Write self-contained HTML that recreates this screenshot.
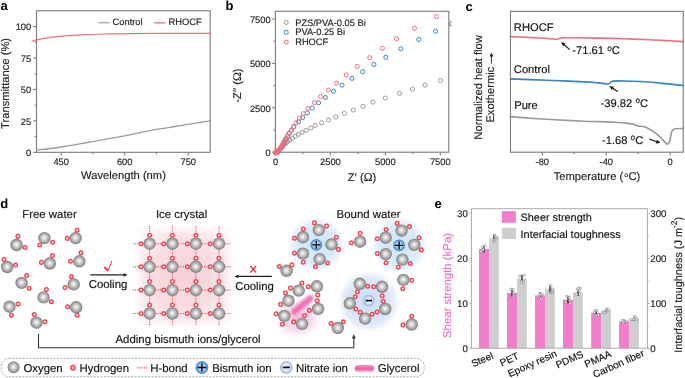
<!DOCTYPE html>
<html><head><meta charset="utf-8"><style>html,body{margin:0;padding:0;background:#fff;}svg{display:block;will-change:transform;}</style></head>
<body>
<svg text-rendering="geometricPrecision" width="685" height="378" viewBox="0 0 685 378" font-family='"Liberation Sans", sans-serif'>
<rect width="685" height="378" fill="#fff"/>
<defs>
<radialGradient id="sph" cx="0.5" cy="0.5" r="0.52" fx="0.48" fy="0.46"><stop offset="0" stop-color="#fcfcfc"/><stop offset="0.22" stop-color="#e4e4e4"/><stop offset="0.6" stop-color="#b2b2b2"/><stop offset="0.86" stop-color="#8c8c8c"/><stop offset="1" stop-color="#7c7c7c"/></radialGradient>
<radialGradient id="bion" cx="0.5" cy="0.5" r="0.5"><stop offset="0" stop-color="#d3e6f8"/><stop offset="0.55" stop-color="#a9cbef"/><stop offset="1" stop-color="#6ea5dd"/></radialGradient>
<radialGradient id="nion" cx="0.5" cy="0.5" r="0.5"><stop offset="0" stop-color="#f6f9fe"/><stop offset="0.6" stop-color="#dde8f8"/><stop offset="1" stop-color="#bcd2f2"/></radialGradient>
<radialGradient id="hleg" cx="0.5" cy="0.5" r="0.5"><stop offset="0" stop-color="#ffd0d4"/><stop offset="1" stop-color="#f58a94"/></radialGradient>
<radialGradient id="blueglow" cx="0.5" cy="0.5" r="0.5"><stop offset="0" stop-color="#cde5f8"/><stop offset="0.6" stop-color="#d8ebf9"/><stop offset="0.8" stop-color="#e8f3fc"/><stop offset="1" stop-color="#ffffff" stop-opacity="0"/></radialGradient>
<radialGradient id="blueglow2" cx="0.5" cy="0.5" r="0.5"><stop offset="0" stop-color="#cddff6"/><stop offset="0.6" stop-color="#d8e6f8"/><stop offset="0.8" stop-color="#e8f0fb"/><stop offset="1" stop-color="#ffffff" stop-opacity="0"/></radialGradient>
<radialGradient id="pinkglow" cx="0.5" cy="0.5" r="0.6"><stop offset="0" stop-color="#f5d0d6"/><stop offset="0.6" stop-color="#f8dde1"/><stop offset="1" stop-color="#fcf0f2"/></radialGradient>
<radialGradient id="pinkglow2" cx="0.5" cy="0.5" r="0.5"><stop offset="0" stop-color="#f3bcdc"/><stop offset="0.5" stop-color="#f8dbeb"/><stop offset="1" stop-color="#ffffff" stop-opacity="0"/></radialGradient>
<linearGradient id="glyc" x1="0" y1="0" x2="1" y2="1"><stop offset="0" stop-color="#f27bb6"/><stop offset="1" stop-color="#ee5ea6"/></linearGradient>
<linearGradient id="glycV" x1="0" y1="0" x2="0" y2="1"><stop offset="0" stop-color="#f59ccb"/><stop offset="0.5" stop-color="#ee5fa6"/><stop offset="1" stop-color="#f59ccb"/></linearGradient>
<filter id="blur3" x="-30%" y="-30%" width="160%" height="160%"><feGaussianBlur stdDeviation="3.2"/></filter>
<filter id="blur6" x="-30%" y="-30%" width="160%" height="160%"><feGaussianBlur stdDeviation="5"/></filter>
<filter id="blur08" x="-30%" y="-30%" width="160%" height="160%"><feGaussianBlur stdDeviation="0.8"/></filter>
<filter id="blur05" x="-30%" y="-30%" width="160%" height="160%"><feGaussianBlur stdDeviation="0.6"/></filter>
</defs>
<text x="0.4" y="10.1" font-size="13" text-anchor="start" fill="#000" font-weight="bold">a</text>
<rect x="36.5" y="10.8" width="173.7" height="141.5" fill="none" stroke="#7a7a7a" stroke-width="1.1"/>
<line x1="33.3" y1="152.3" x2="36.5" y2="152.3" stroke="#7a7a7a" stroke-width="1.1"/>
<text x="31.2" y="156.10000000000002" font-size="9.3" text-anchor="end" fill="#222" stroke="#222" stroke-width="0.15">0</text>
<line x1="33.3" y1="120.86250000000001" x2="36.5" y2="120.86250000000001" stroke="#7a7a7a" stroke-width="1.1"/>
<text x="31.2" y="124.66250000000001" font-size="9.3" text-anchor="end" fill="#222" stroke="#222" stroke-width="0.15">25</text>
<line x1="33.3" y1="89.42500000000001" x2="36.5" y2="89.42500000000001" stroke="#7a7a7a" stroke-width="1.1"/>
<text x="31.2" y="93.22500000000001" font-size="9.3" text-anchor="end" fill="#222" stroke="#222" stroke-width="0.15">50</text>
<line x1="33.3" y1="57.98750000000001" x2="36.5" y2="57.98750000000001" stroke="#7a7a7a" stroke-width="1.1"/>
<text x="31.2" y="61.78750000000001" font-size="9.3" text-anchor="end" fill="#222" stroke="#222" stroke-width="0.15">75</text>
<line x1="33.3" y1="26.55000000000001" x2="36.5" y2="26.55000000000001" stroke="#7a7a7a" stroke-width="1.1"/>
<text x="31.2" y="30.350000000000012" font-size="9.3" text-anchor="end" fill="#222" stroke="#222" stroke-width="0.15">100</text>
<line x1="34.6" y1="136.58125" x2="36.5" y2="136.58125" stroke="#7a7a7a" stroke-width="1.1"/>
<line x1="34.6" y1="105.14375000000001" x2="36.5" y2="105.14375000000001" stroke="#7a7a7a" stroke-width="1.1"/>
<line x1="34.6" y1="73.70625000000001" x2="36.5" y2="73.70625000000001" stroke="#7a7a7a" stroke-width="1.1"/>
<line x1="34.6" y1="42.26875000000001" x2="36.5" y2="42.26875000000001" stroke="#7a7a7a" stroke-width="1.1"/>
<line x1="61.2" y1="152.3" x2="61.2" y2="155.5" stroke="#7a7a7a" stroke-width="1.1"/>
<text x="61.2" y="164.70000000000002" font-size="9.3" text-anchor="middle" fill="#222" stroke="#222" stroke-width="0.15">450</text>
<line x1="124.725" y1="152.3" x2="124.725" y2="155.5" stroke="#7a7a7a" stroke-width="1.1"/>
<text x="124.725" y="164.70000000000002" font-size="9.3" text-anchor="middle" fill="#222" stroke="#222" stroke-width="0.15">600</text>
<line x1="188.25" y1="152.3" x2="188.25" y2="155.5" stroke="#7a7a7a" stroke-width="1.1"/>
<text x="188.25" y="164.70000000000002" font-size="9.3" text-anchor="middle" fill="#222" stroke="#222" stroke-width="0.15">750</text>
<line x1="92.9625" y1="152.3" x2="92.9625" y2="154.20000000000002" stroke="#7a7a7a" stroke-width="1.1"/>
<line x1="156.4875" y1="152.3" x2="156.4875" y2="154.20000000000002" stroke="#7a7a7a" stroke-width="1.1"/>
<text x="123.5" y="179.4" font-size="11.2" text-anchor="middle" fill="#222" stroke="#222" stroke-width="0.15">Wavelength (nm)</text>
<text x="9.3" y="83.4" font-size="11.2" text-anchor="middle" fill="#222" stroke="#222" stroke-width="0.15" transform="rotate(-90 9.3 83.4)">Transmittance (%)</text>
<line x1="98.2" y1="22.7" x2="109.7" y2="22.7" stroke="#a8a8a8" stroke-width="1.3"/>
<text x="112.6" y="25.2" font-size="9.3" text-anchor="start" fill="#222" stroke="#222" stroke-width="0.15">Control</text>
<line x1="154.2" y1="22.9" x2="165.7" y2="22.9" stroke="#ef6f7c" stroke-width="1.3"/>
<text x="168.6" y="25.2" font-size="9.3" text-anchor="start" fill="#222" stroke="#222" stroke-width="0.15">RHOCF</text>
<path d="M32.00,41.50 C32.63,41.27 32.97,40.75 35.80,40.10 C38.63,39.45 44.13,38.30 49.00,37.60 C53.87,36.90 59.67,36.37 65.00,35.90 C70.33,35.43 74.33,35.12 81.00,34.80 C87.67,34.48 96.83,34.20 105.00,34.00 C113.17,33.80 119.17,33.70 130.00,33.60 C140.83,33.50 156.67,33.45 170.00,33.40 C183.33,33.35 203.33,33.32 210.00,33.30" fill="none" stroke="#ef6f7c" stroke-width="1.2" stroke-linejoin="round" stroke-linecap="round"/>
<path d="M36.80,150.20 C40.83,149.67 52.13,148.37 61.00,147.00 C69.87,145.63 79.40,143.85 90.00,142.00 C100.60,140.15 115.43,137.63 124.60,135.90 C133.77,134.17 139.15,132.77 145.00,131.60 C150.85,130.43 154.70,129.75 159.70,128.90 C164.70,128.05 170.03,127.28 175.00,126.50 C179.97,125.72 185.33,124.87 189.50,124.20 C193.67,123.53 196.58,123.07 200.00,122.50 C203.42,121.93 208.33,121.08 210.00,120.80" fill="none" stroke="#9c9c9c" stroke-width="1.3" stroke-linejoin="round" stroke-linecap="round"/>
<text x="225.5" y="9.9" font-size="13" text-anchor="start" fill="#000" font-weight="bold">b</text>
<line x1="272.2" y1="152.2" x2="275.4" y2="152.2" stroke="#7a7a7a" stroke-width="1.1"/>
<text x="270.6" y="156.0" font-size="9.3" text-anchor="end" fill="#222" stroke="#222" stroke-width="0.15">0</text>
<line x1="275.5" y1="152.2" x2="275.5" y2="155.39999999999998" stroke="#7a7a7a" stroke-width="1.1"/>
<text x="275.5" y="164.6" font-size="9.3" text-anchor="middle" fill="#222" stroke="#222" stroke-width="0.15">0</text>
<line x1="272.2" y1="107.79999999999998" x2="275.4" y2="107.79999999999998" stroke="#7a7a7a" stroke-width="1.1"/>
<text x="270.6" y="111.59999999999998" font-size="9.3" text-anchor="end" fill="#222" stroke="#222" stroke-width="0.15">2500</text>
<line x1="330.43333333333334" y1="152.2" x2="330.43333333333334" y2="155.39999999999998" stroke="#7a7a7a" stroke-width="1.1"/>
<text x="330.43333333333334" y="164.6" font-size="9.3" text-anchor="middle" fill="#222" stroke="#222" stroke-width="0.15">2500</text>
<line x1="272.2" y1="63.39999999999999" x2="275.4" y2="63.39999999999999" stroke="#7a7a7a" stroke-width="1.1"/>
<text x="270.6" y="67.19999999999999" font-size="9.3" text-anchor="end" fill="#222" stroke="#222" stroke-width="0.15">5000</text>
<line x1="385.3666666666667" y1="152.2" x2="385.3666666666667" y2="155.39999999999998" stroke="#7a7a7a" stroke-width="1.1"/>
<text x="385.3666666666667" y="164.6" font-size="9.3" text-anchor="middle" fill="#222" stroke="#222" stroke-width="0.15">5000</text>
<line x1="272.2" y1="19.0" x2="275.4" y2="19.0" stroke="#7a7a7a" stroke-width="1.1"/>
<text x="270.6" y="22.8" font-size="9.3" text-anchor="end" fill="#222" stroke="#222" stroke-width="0.15">7500</text>
<line x1="440.3" y1="152.2" x2="440.3" y2="155.39999999999998" stroke="#7a7a7a" stroke-width="1.1"/>
<text x="440.3" y="164.6" font-size="9.3" text-anchor="middle" fill="#222" stroke="#222" stroke-width="0.15">7500</text>
<line x1="273.5" y1="130.0" x2="275.4" y2="130.0" stroke="#7a7a7a" stroke-width="1.1"/>
<line x1="302.96666666666664" y1="152.2" x2="302.96666666666664" y2="154.1" stroke="#7a7a7a" stroke-width="1.1"/>
<line x1="273.5" y1="85.6" x2="275.4" y2="85.6" stroke="#7a7a7a" stroke-width="1.1"/>
<line x1="357.9" y1="152.2" x2="357.9" y2="154.1" stroke="#7a7a7a" stroke-width="1.1"/>
<line x1="273.5" y1="41.2" x2="275.4" y2="41.2" stroke="#7a7a7a" stroke-width="1.1"/>
<line x1="412.83333333333337" y1="152.2" x2="412.83333333333337" y2="154.1" stroke="#7a7a7a" stroke-width="1.1"/>
<text x="362" y="181" font-size="11.2" text-anchor="middle" fill="#222" stroke="#222" stroke-width="0.15">Z&#8242; (<tspan font-family="Liberation Serif" font-size="11.8">&#937;</tspan>)</text>
<text x="240.7" y="85.6" font-size="11.2" text-anchor="middle" fill="#222" stroke="#222" stroke-width="0.15" transform="rotate(-90 240.7 85.6)">-Z&#8242;&#8242; (<tspan font-family="Liberation Serif" font-size="11.8">&#937;</tspan>)</text>
<circle cx="286.2" cy="22.4" r="2.05" fill="none" stroke="#9a9a9a" stroke-width="1.0"/>
<text x="295.2" y="25.5" font-size="9.3" text-anchor="start" fill="#222" stroke="#222" stroke-width="0.15">PZS/PVA-0.05 Bi</text>
<circle cx="286.2" cy="32.3" r="2.05" fill="none" stroke="#3a82c4" stroke-width="1.0"/>
<text x="295.2" y="35.4" font-size="9.3" text-anchor="start" fill="#222" stroke="#222" stroke-width="0.15">PVA-0.25 Bi</text>
<circle cx="286.2" cy="42.2" r="2.05" fill="none" stroke="#ef6f7c" stroke-width="1.0"/>
<text x="295.2" y="45.300000000000004" font-size="9.3" text-anchor="start" fill="#222" stroke="#222" stroke-width="0.15">RHOCF</text>
<rect x="275.4" y="11.3" width="173.40000000000003" height="140.89999999999998" fill="none" stroke="#7a7a7a" stroke-width="1.1"/>
<clipPath id="cb"><rect x="272" y="8" width="179.7" height="148"/></clipPath>
<g clip-path="url(#cb)">
<circle cx="440.50" cy="80.50" r="2.05" fill="none" stroke="#9a9a9a" stroke-width="1.0"/>
<circle cx="425.00" cy="85.10" r="2.05" fill="none" stroke="#9a9a9a" stroke-width="1.0"/>
<circle cx="412.40" cy="89.10" r="2.05" fill="none" stroke="#9a9a9a" stroke-width="1.0"/>
<circle cx="399.50" cy="93.30" r="2.05" fill="none" stroke="#9a9a9a" stroke-width="1.0"/>
<circle cx="385.30" cy="98.10" r="2.05" fill="none" stroke="#9a9a9a" stroke-width="1.0"/>
<circle cx="372.90" cy="102.10" r="2.05" fill="none" stroke="#9a9a9a" stroke-width="1.0"/>
<circle cx="362.90" cy="106.40" r="2.05" fill="none" stroke="#9a9a9a" stroke-width="1.0"/>
<circle cx="353.40" cy="110.00" r="2.05" fill="none" stroke="#9a9a9a" stroke-width="1.0"/>
<circle cx="344.30" cy="113.40" r="2.05" fill="none" stroke="#9a9a9a" stroke-width="1.0"/>
<circle cx="335.80" cy="117.00" r="2.05" fill="none" stroke="#9a9a9a" stroke-width="1.0"/>
<circle cx="328.40" cy="119.90" r="2.05" fill="none" stroke="#9a9a9a" stroke-width="1.0"/>
<circle cx="321.60" cy="122.70" r="2.05" fill="none" stroke="#9a9a9a" stroke-width="1.0"/>
<circle cx="315.40" cy="125.50" r="2.05" fill="none" stroke="#9a9a9a" stroke-width="1.0"/>
<circle cx="310.80" cy="127.90" r="2.05" fill="none" stroke="#9a9a9a" stroke-width="1.0"/>
<circle cx="306.10" cy="130.40" r="2.05" fill="none" stroke="#9a9a9a" stroke-width="1.0"/>
<circle cx="302.10" cy="132.30" r="2.05" fill="none" stroke="#9a9a9a" stroke-width="1.0"/>
<circle cx="298.40" cy="134.40" r="2.05" fill="none" stroke="#9a9a9a" stroke-width="1.0"/>
<circle cx="295.30" cy="136.30" r="2.05" fill="none" stroke="#9a9a9a" stroke-width="1.0"/>
<circle cx="292.40" cy="138.20" r="2.05" fill="none" stroke="#9a9a9a" stroke-width="1.0"/>
<circle cx="289.80" cy="140.00" r="2.05" fill="none" stroke="#9a9a9a" stroke-width="1.0"/>
<circle cx="287.90" cy="141.37" r="2.05" fill="none" stroke="#9a9a9a" stroke-width="1.0"/>
<circle cx="286.27" cy="142.70" r="2.05" fill="none" stroke="#9a9a9a" stroke-width="1.0"/>
<circle cx="284.85" cy="143.95" r="2.05" fill="none" stroke="#9a9a9a" stroke-width="1.0"/>
<circle cx="283.64" cy="145.16" r="2.05" fill="none" stroke="#9a9a9a" stroke-width="1.0"/>
<circle cx="282.58" cy="146.26" r="2.05" fill="none" stroke="#9a9a9a" stroke-width="1.0"/>
<circle cx="281.67" cy="147.30" r="2.05" fill="none" stroke="#9a9a9a" stroke-width="1.0"/>
<circle cx="280.85" cy="148.24" r="2.05" fill="none" stroke="#9a9a9a" stroke-width="1.0"/>
<circle cx="280.10" cy="149.07" r="2.05" fill="none" stroke="#9a9a9a" stroke-width="1.0"/>
<circle cx="279.43" cy="149.82" r="2.05" fill="none" stroke="#9a9a9a" stroke-width="1.0"/>
<circle cx="278.83" cy="150.50" r="2.05" fill="none" stroke="#9a9a9a" stroke-width="1.0"/>
<circle cx="278.28" cy="151.10" r="2.05" fill="none" stroke="#9a9a9a" stroke-width="1.0"/>
<circle cx="277.79" cy="151.65" r="2.05" fill="none" stroke="#9a9a9a" stroke-width="1.0"/>
<circle cx="277.35" cy="152.14" r="2.05" fill="none" stroke="#9a9a9a" stroke-width="1.0"/>
<circle cx="277.30" cy="152.20" r="2.05" fill="none" stroke="#9a9a9a" stroke-width="1.0"/>
<circle cx="451.50" cy="23.90" r="2.05" fill="none" stroke="#3a82c4" stroke-width="1.0"/>
<circle cx="435.60" cy="31.30" r="2.05" fill="none" stroke="#3a82c4" stroke-width="1.0"/>
<circle cx="418.80" cy="39.50" r="2.05" fill="none" stroke="#3a82c4" stroke-width="1.0"/>
<circle cx="400.80" cy="48.80" r="2.05" fill="none" stroke="#3a82c4" stroke-width="1.0"/>
<circle cx="385.80" cy="57.30" r="2.05" fill="none" stroke="#3a82c4" stroke-width="1.0"/>
<circle cx="373.90" cy="64.50" r="2.05" fill="none" stroke="#3a82c4" stroke-width="1.0"/>
<circle cx="362.70" cy="71.70" r="2.05" fill="none" stroke="#3a82c4" stroke-width="1.0"/>
<circle cx="351.90" cy="78.40" r="2.05" fill="none" stroke="#3a82c4" stroke-width="1.0"/>
<circle cx="342.00" cy="85.20" r="2.05" fill="none" stroke="#3a82c4" stroke-width="1.0"/>
<circle cx="333.50" cy="91.30" r="2.05" fill="none" stroke="#3a82c4" stroke-width="1.0"/>
<circle cx="325.40" cy="97.50" r="2.05" fill="none" stroke="#3a82c4" stroke-width="1.0"/>
<circle cx="318.60" cy="102.80" r="2.05" fill="none" stroke="#3a82c4" stroke-width="1.0"/>
<circle cx="312.20" cy="108.10" r="2.05" fill="none" stroke="#3a82c4" stroke-width="1.0"/>
<circle cx="307.30" cy="112.90" r="2.05" fill="none" stroke="#3a82c4" stroke-width="1.0"/>
<circle cx="302.70" cy="117.50" r="2.05" fill="none" stroke="#3a82c4" stroke-width="1.0"/>
<circle cx="298.60" cy="121.80" r="2.05" fill="none" stroke="#3a82c4" stroke-width="1.0"/>
<circle cx="293.80" cy="126.85" r="2.05" fill="none" stroke="#3a82c4" stroke-width="1.0"/>
<circle cx="291.30" cy="130.55" r="2.05" fill="none" stroke="#3a82c4" stroke-width="1.0"/>
<circle cx="289.30" cy="133.45" r="2.05" fill="none" stroke="#3a82c4" stroke-width="1.0"/>
<circle cx="287.69" cy="136.16" r="2.05" fill="none" stroke="#3a82c4" stroke-width="1.0"/>
<circle cx="286.27" cy="138.61" r="2.05" fill="none" stroke="#3a82c4" stroke-width="1.0"/>
<circle cx="285.03" cy="140.84" r="2.05" fill="none" stroke="#3a82c4" stroke-width="1.0"/>
<circle cx="283.91" cy="142.85" r="2.05" fill="none" stroke="#3a82c4" stroke-width="1.0"/>
<circle cx="282.91" cy="144.65" r="2.05" fill="none" stroke="#3a82c4" stroke-width="1.0"/>
<circle cx="282.01" cy="146.28" r="2.05" fill="none" stroke="#3a82c4" stroke-width="1.0"/>
<circle cx="281.11" cy="147.70" r="2.05" fill="none" stroke="#3a82c4" stroke-width="1.0"/>
<circle cx="280.29" cy="148.96" r="2.05" fill="none" stroke="#3a82c4" stroke-width="1.0"/>
<circle cx="279.46" cy="150.02" r="2.05" fill="none" stroke="#3a82c4" stroke-width="1.0"/>
<circle cx="278.62" cy="150.90" r="2.05" fill="none" stroke="#3a82c4" stroke-width="1.0"/>
<circle cx="277.81" cy="151.64" r="2.05" fill="none" stroke="#3a82c4" stroke-width="1.0"/>
<circle cx="276.99" cy="152.19" r="2.05" fill="none" stroke="#3a82c4" stroke-width="1.0"/>
<circle cx="276.22" cy="152.62" r="2.05" fill="none" stroke="#3a82c4" stroke-width="1.0"/>
<circle cx="275.50" cy="152.95" r="2.05" fill="none" stroke="#3a82c4" stroke-width="1.0"/>
<path d="M275.6,152.6 L277.8,151.3 L279.6,149.4 L281.5,146.5 L283.6,142.7" fill="none" stroke="#ef6f7c" stroke-width="4.2" stroke-linecap="round" stroke-linejoin="round"/>
<circle cx="436.50" cy="16.60" r="2.05" fill="none" stroke="#ef6f7c" stroke-width="1.0"/>
<circle cx="414.50" cy="28.30" r="2.05" fill="none" stroke="#ef6f7c" stroke-width="1.0"/>
<circle cx="396.50" cy="38.90" r="2.05" fill="none" stroke="#ef6f7c" stroke-width="1.0"/>
<circle cx="382.40" cy="48.20" r="2.05" fill="none" stroke="#ef6f7c" stroke-width="1.0"/>
<circle cx="369.70" cy="57.70" r="2.05" fill="none" stroke="#ef6f7c" stroke-width="1.0"/>
<circle cx="357.20" cy="66.40" r="2.05" fill="none" stroke="#ef6f7c" stroke-width="1.0"/>
<circle cx="346.20" cy="75.00" r="2.05" fill="none" stroke="#ef6f7c" stroke-width="1.0"/>
<circle cx="336.50" cy="83.10" r="2.05" fill="none" stroke="#ef6f7c" stroke-width="1.0"/>
<circle cx="328.40" cy="90.10" r="2.05" fill="none" stroke="#ef6f7c" stroke-width="1.0"/>
<circle cx="320.60" cy="96.60" r="2.05" fill="none" stroke="#ef6f7c" stroke-width="1.0"/>
<circle cx="314.40" cy="102.60" r="2.05" fill="none" stroke="#ef6f7c" stroke-width="1.0"/>
<circle cx="308.10" cy="108.40" r="2.05" fill="none" stroke="#ef6f7c" stroke-width="1.0"/>
<circle cx="303.40" cy="113.60" r="2.05" fill="none" stroke="#ef6f7c" stroke-width="1.0"/>
<circle cx="299.40" cy="118.10" r="2.05" fill="none" stroke="#ef6f7c" stroke-width="1.0"/>
<circle cx="296.10" cy="122.70" r="2.05" fill="none" stroke="#ef6f7c" stroke-width="1.0"/>
<circle cx="293.50" cy="126.70" r="2.05" fill="none" stroke="#ef6f7c" stroke-width="1.0"/>
<circle cx="291.00" cy="130.40" r="2.05" fill="none" stroke="#ef6f7c" stroke-width="1.0"/>
<circle cx="289.00" cy="133.30" r="2.05" fill="none" stroke="#ef6f7c" stroke-width="1.0"/>
<circle cx="287.39" cy="136.01" r="2.05" fill="none" stroke="#ef6f7c" stroke-width="1.0"/>
<circle cx="285.97" cy="138.46" r="2.05" fill="none" stroke="#ef6f7c" stroke-width="1.0"/>
<circle cx="284.73" cy="140.69" r="2.05" fill="none" stroke="#ef6f7c" stroke-width="1.0"/>
<circle cx="283.61" cy="142.70" r="2.05" fill="none" stroke="#ef6f7c" stroke-width="1.0"/>
<circle cx="282.61" cy="144.50" r="2.05" fill="none" stroke="#ef6f7c" stroke-width="1.0"/>
<circle cx="281.71" cy="146.13" r="2.05" fill="none" stroke="#ef6f7c" stroke-width="1.0"/>
<circle cx="280.81" cy="147.55" r="2.05" fill="none" stroke="#ef6f7c" stroke-width="1.0"/>
<circle cx="279.99" cy="148.81" r="2.05" fill="none" stroke="#ef6f7c" stroke-width="1.0"/>
<circle cx="279.16" cy="149.87" r="2.05" fill="none" stroke="#ef6f7c" stroke-width="1.0"/>
<circle cx="278.32" cy="150.75" r="2.05" fill="none" stroke="#ef6f7c" stroke-width="1.0"/>
<circle cx="277.51" cy="151.49" r="2.05" fill="none" stroke="#ef6f7c" stroke-width="1.0"/>
<circle cx="276.69" cy="152.04" r="2.05" fill="none" stroke="#ef6f7c" stroke-width="1.0"/>
<circle cx="275.92" cy="152.47" r="2.05" fill="none" stroke="#ef6f7c" stroke-width="1.0"/>
<circle cx="275.20" cy="152.80" r="2.05" fill="none" stroke="#ef6f7c" stroke-width="1.0"/>
</g>
<text x="465.6" y="10.8" font-size="13" text-anchor="start" fill="#000" font-weight="bold">c</text>
<line x1="542.3" y1="152.2" x2="542.3" y2="155.39999999999998" stroke="#7a7a7a" stroke-width="1.1"/>
<text x="542.3" y="164.6" font-size="9.3" text-anchor="middle" fill="#222" stroke="#222" stroke-width="0.15">-80</text>
<line x1="606.25" y1="152.2" x2="606.25" y2="155.39999999999998" stroke="#7a7a7a" stroke-width="1.1"/>
<text x="606.25" y="164.6" font-size="9.3" text-anchor="middle" fill="#222" stroke="#222" stroke-width="0.15">-40</text>
<line x1="670.2" y1="152.2" x2="670.2" y2="155.39999999999998" stroke="#7a7a7a" stroke-width="1.1"/>
<text x="670.2" y="164.6" font-size="9.3" text-anchor="middle" fill="#222" stroke="#222" stroke-width="0.15">0</text>
<line x1="574.275" y1="152.2" x2="574.275" y2="154.1" stroke="#7a7a7a" stroke-width="1.1"/>
<line x1="638.225" y1="152.2" x2="638.225" y2="154.1" stroke="#7a7a7a" stroke-width="1.1"/>
<text x="597" y="179.6" font-size="11.2" text-anchor="middle" fill="#222" stroke="#222" stroke-width="0.15">Temperature (<tspan font-size="7" dx="0.9" dy="-2.2">o</tspan><tspan dx="0.4" dy="2.2">C)</tspan></text>
<text x="481.8" y="87.4" font-size="11.2" text-anchor="middle" fill="#222" stroke="#222" stroke-width="0.15" transform="rotate(-90 481.8 87.4)">Normalized heat flow</text>
<text x="493.6" y="122.6" font-size="11.2" text-anchor="start" fill="#222" stroke="#222" stroke-width="0.15" transform="rotate(-90 493.6 122.6)">Exothermic</text>
<line x1="491.4" y1="63.8" x2="491.4" y2="55.5" stroke="#222" stroke-width="0.9"/>
<path d="M491.4,52.6 L489.5,56.4 L493.3,56.4 Z" fill="#222"/>
<text x="513.8" y="31.4" font-size="11.2" text-anchor="start" fill="#111" stroke="#111" stroke-width="0.15">RHOCF</text>
<text x="513.8" y="73.0" font-size="11.2" text-anchor="start" fill="#111" stroke="#111" stroke-width="0.15">Control</text>
<text x="514.2" y="108.6" font-size="11.2" text-anchor="start" fill="#111" stroke="#111" stroke-width="0.15">Pure</text>
<path d="M510.50,36.60 C512.92,36.70 520.08,36.97 525.00,37.20 C529.92,37.43 535.83,37.75 540.00,38.00 C544.17,38.25 547.50,38.50 550.00,38.70 C552.50,38.90 553.73,39.12 555.00,39.20 C556.27,39.28 556.83,39.32 557.60,39.20 C558.37,39.08 558.93,38.70 559.60,38.50 C560.27,38.30 560.70,38.12 561.60,38.00 C562.50,37.88 561.93,37.83 565.00,37.80 C568.07,37.77 574.17,37.75 580.00,37.80 C585.83,37.85 592.50,37.93 600.00,38.10 C607.50,38.27 616.67,38.53 625.00,38.80 C633.33,39.07 642.50,39.37 650.00,39.70 C657.50,40.03 664.50,40.48 670.00,40.80 C675.50,41.12 680.83,41.47 683.00,41.60" fill="none" stroke="#ef6f7c" stroke-width="1.65" stroke-linejoin="round" stroke-linecap="round"/>
<path d="M510.50,78.90 C513.75,79.02 521.75,79.28 530.00,79.60 C538.25,79.92 550.83,80.42 560.00,80.80 C569.17,81.18 578.67,81.55 585.00,81.90 C591.33,82.25 594.83,82.62 598.00,82.90 C601.17,83.18 602.45,83.42 604.00,83.60 C605.55,83.78 606.42,84.00 607.30,84.00 C608.18,84.00 608.67,83.95 609.30,83.60 C609.93,83.25 610.35,82.32 611.10,81.90 C611.85,81.48 611.48,81.25 613.80,81.10 C616.12,80.95 619.80,80.88 625.00,81.00 C630.20,81.12 638.33,81.37 645.00,81.80 C651.67,82.23 658.67,82.97 665.00,83.60 C671.33,84.23 680.00,85.27 683.00,85.60" fill="none" stroke="#3a82c4" stroke-width="1.65" stroke-linejoin="round" stroke-linecap="round"/>
<path d="M510.50,116.60 C513.75,116.87 522.58,117.67 530.00,118.20 C537.42,118.73 546.03,119.30 555.00,119.80 C563.97,120.30 576.30,120.90 583.80,121.20 C591.30,121.50 594.80,121.43 600.00,121.60 C605.20,121.77 610.62,121.95 615.00,122.20 C619.38,122.45 623.25,122.73 626.30,123.10 C629.35,123.47 631.40,123.92 633.30,124.40 C635.20,124.88 636.10,125.65 637.70,126.00 C639.30,126.35 641.45,126.23 642.90,126.50 C644.35,126.77 644.80,126.85 646.40,127.60 C648.00,128.35 650.32,129.53 652.50,131.00 C654.68,132.47 657.55,134.67 659.50,136.40 C661.45,138.13 662.88,140.12 664.20,141.40 C665.52,142.68 666.53,144.00 667.40,144.10 C668.27,144.20 668.87,143.18 669.40,142.00 C669.93,140.82 670.23,138.67 670.60,137.00 C670.97,135.33 671.13,133.27 671.60,132.00 C672.07,130.73 672.67,129.95 673.40,129.40 C674.13,128.85 674.40,128.85 676.00,128.70 C677.60,128.55 681.83,128.53 683.00,128.50" fill="none" stroke="#9a9a9a" stroke-width="1.65" stroke-linejoin="round" stroke-linecap="round"/>
<line x1="569.7" y1="49.6" x2="564.039279521267" y2="44.66332516389563" stroke="#111" stroke-width="1.2"/>
<path d="M561.10,42.10 L565.51,43.43 L563.02,46.29 Z" fill="#111"/>
<text x="572.3" y="54.4" font-size="11.2" text-anchor="start" fill="#111" stroke="#111" stroke-width="0.15">-71.61 <tspan font-size="8.2" dy="-3.5">o</tspan><tspan dy="3.5">C</tspan></text>
<line x1="617.8" y1="91.6" x2="612.5567370573901" y2="88.1456150025159" stroke="#111" stroke-width="1.2"/>
<path d="M609.30,86.00 L613.85,86.72 L611.76,89.90 Z" fill="#111"/>
<text x="600.6" y="106.8" font-size="11.2" text-anchor="start" fill="#111" stroke="#111" stroke-width="0.15">-39.82 <tspan font-size="8.2" dy="-3.5">o</tspan><tspan dy="3.5">C</tspan></text>
<line x1="649.3" y1="139.0" x2="656.6455929015003" y2="141.73790280874104" stroke="#111" stroke-width="1.2"/>
<path d="M660.30,143.10 L655.70,143.41 L657.03,139.85 Z" fill="#111"/>
<text x="602" y="143.6" font-size="11.2" text-anchor="start" fill="#111" stroke="#111" stroke-width="0.15">-1.68 <tspan font-size="8.2" dy="-3.5">o</tspan><tspan dy="3.5">C</tspan></text>
<rect x="510.5" y="11.4" width="172.70000000000005" height="140.79999999999998" fill="none" stroke="#7a7a7a" stroke-width="1.1"/>
<text x="0.2" y="207.8" font-size="13" text-anchor="start" fill="#000" font-weight="bold">d</text>
<text x="49.5" y="218.1" font-size="11.4" text-anchor="middle" fill="#111" stroke="#111" stroke-width="0.15">Free water</text>
<text x="181.6" y="217.5" font-size="11.4" text-anchor="middle" fill="#111" stroke="#111" stroke-width="0.15">Ice crystal</text>
<text x="368.6" y="217.5" font-size="11.4" text-anchor="middle" fill="#111" stroke="#111" stroke-width="0.15">Bound water</text>
<circle cx="16.50" cy="245.00" r="6.2" fill="url(#sph)"/>
<circle cx="17.90" cy="236.40" r="1.78" fill="#fff" stroke="#f2475a" stroke-width="1.5"/>
<circle cx="24.90" cy="247.50" r="1.78" fill="#fff" stroke="#f2475a" stroke-width="1.5"/>
<circle cx="44.40" cy="238.10" r="6.2" fill="url(#sph)"/>
<circle cx="39.70" cy="245.00" r="1.78" fill="#fff" stroke="#f2475a" stroke-width="1.5"/>
<circle cx="52.70" cy="242.20" r="1.78" fill="#fff" stroke="#f2475a" stroke-width="1.5"/>
<circle cx="75.60" cy="238.10" r="6.2" fill="url(#sph)"/>
<circle cx="77.10" cy="230.20" r="1.78" fill="#fff" stroke="#f2475a" stroke-width="1.5"/>
<circle cx="67.30" cy="238.40" r="1.78" fill="#fff" stroke="#f2475a" stroke-width="1.5"/>
<circle cx="7.20" cy="267.00" r="6.2" fill="url(#sph)"/>
<circle cx="4.00" cy="259.40" r="1.78" fill="#fff" stroke="#f2475a" stroke-width="1.5"/>
<circle cx="15.60" cy="265.00" r="1.78" fill="#fff" stroke="#f2475a" stroke-width="1.5"/>
<circle cx="49.80" cy="263.50" r="6.2" fill="url(#sph)"/>
<circle cx="52.40" cy="255.60" r="1.78" fill="#fff" stroke="#f2475a" stroke-width="1.5"/>
<circle cx="41.40" cy="262.40" r="1.78" fill="#fff" stroke="#f2475a" stroke-width="1.5"/>
<circle cx="79.40" cy="261.30" r="6.2" fill="url(#sph)"/>
<circle cx="81.00" cy="252.70" r="1.78" fill="#fff" stroke="#f2475a" stroke-width="1.5"/>
<circle cx="70.50" cy="261.30" r="1.78" fill="#fff" stroke="#f2475a" stroke-width="1.5"/>
<circle cx="21.60" cy="282.90" r="6.2" fill="url(#sph)"/>
<circle cx="26.70" cy="275.60" r="1.78" fill="#fff" stroke="#f2475a" stroke-width="1.5"/>
<circle cx="29.20" cy="288.30" r="1.78" fill="#fff" stroke="#f2475a" stroke-width="1.5"/>
<circle cx="73.70" cy="284.40" r="6.2" fill="url(#sph)"/>
<circle cx="71.40" cy="276.50" r="1.78" fill="#fff" stroke="#f2475a" stroke-width="1.5"/>
<circle cx="65.10" cy="287.60" r="1.78" fill="#fff" stroke="#f2475a" stroke-width="1.5"/>
<circle cx="43.50" cy="297.40" r="6.2" fill="url(#sph)"/>
<circle cx="46.40" cy="289.50" r="1.78" fill="#fff" stroke="#f2475a" stroke-width="1.5"/>
<circle cx="51.40" cy="301.70" r="1.78" fill="#fff" stroke="#f2475a" stroke-width="1.5"/>
<circle cx="9.50" cy="306.70" r="6.2" fill="url(#sph)"/>
<circle cx="18.10" cy="304.10" r="1.78" fill="#fff" stroke="#f2475a" stroke-width="1.5"/>
<circle cx="11.40" cy="315.20" r="1.78" fill="#fff" stroke="#f2475a" stroke-width="1.5"/>
<circle cx="76.20" cy="307.30" r="6.2" fill="url(#sph)"/>
<circle cx="67.60" cy="306.70" r="1.78" fill="#fff" stroke="#f2475a" stroke-width="1.5"/>
<circle cx="77.10" cy="315.20" r="1.78" fill="#fff" stroke="#f2475a" stroke-width="1.5"/>
<circle cx="36.50" cy="322.70" r="6.2" fill="url(#sph)"/>
<circle cx="34.20" cy="314.50" r="1.78" fill="#fff" stroke="#f2475a" stroke-width="1.5"/>
<circle cx="44.90" cy="321.70" r="1.78" fill="#fff" stroke="#f2475a" stroke-width="1.5"/>
<line x1="90.3" y1="274.9" x2="123.89999999999999" y2="274.9" stroke="#222" stroke-width="1.15"/>
<path d="M127.60,274.90 L123.60,276.70 L123.60,273.10 Z" fill="#222"/>
<path d="M103.6,267.6 L105.2,266.6 L107.9,269.6 L111.7,260.6 L112.4,260.9 L108.1,271.3 L107.4,271.3 Z" fill="#f01c24"/>
<text x="108" y="287.8" font-size="11.4" text-anchor="middle" fill="#111" stroke="#111" stroke-width="0.15">Cooling</text>
<line x1="271.8" y1="276.4" x2="238.2" y2="276.4" stroke="#222" stroke-width="1.15"/>
<path d="M234.50,276.40 L238.50,274.60 L238.50,278.20 Z" fill="#222"/>
<path d="M250.3,265.9 L256.1,272.7 M256.1,265.9 L250.3,272.7" fill="none" stroke="#f01c24" stroke-width="1.25"/>
<text x="254.5" y="289.6" font-size="11.4" text-anchor="middle" fill="#111" stroke="#111" stroke-width="0.15">Cooling</text>
<rect x="140" y="230" width="89" height="93" rx="6" fill="url(#pinkglow)" filter="url(#blur3)"/>
<line x1="132.80" y1="243.70" x2="139.00" y2="243.70" stroke="#f04252" stroke-width="1.15" stroke-dasharray="1.0 1.25"/>
<line x1="155.60" y1="243.70" x2="161.80" y2="243.70" stroke="#f04252" stroke-width="1.15" stroke-dasharray="1.0 1.25"/>
<line x1="178.40" y1="243.70" x2="185.30" y2="243.70" stroke="#f04252" stroke-width="1.15" stroke-dasharray="1.0 1.25"/>
<line x1="201.90" y1="243.70" x2="208.40" y2="243.70" stroke="#f04252" stroke-width="1.15" stroke-dasharray="1.0 1.25"/>
<line x1="225.00" y1="243.70" x2="231.00" y2="243.70" stroke="#f04252" stroke-width="1.15" stroke-dasharray="1.0 1.25"/>
<line x1="132.80" y1="266.80" x2="139.00" y2="266.80" stroke="#f04252" stroke-width="1.15" stroke-dasharray="1.0 1.25"/>
<line x1="155.60" y1="266.80" x2="161.80" y2="266.80" stroke="#f04252" stroke-width="1.15" stroke-dasharray="1.0 1.25"/>
<line x1="178.40" y1="266.80" x2="185.30" y2="266.80" stroke="#f04252" stroke-width="1.15" stroke-dasharray="1.0 1.25"/>
<line x1="201.90" y1="266.80" x2="208.40" y2="266.80" stroke="#f04252" stroke-width="1.15" stroke-dasharray="1.0 1.25"/>
<line x1="225.00" y1="266.80" x2="231.00" y2="266.80" stroke="#f04252" stroke-width="1.15" stroke-dasharray="1.0 1.25"/>
<line x1="132.80" y1="290.10" x2="139.00" y2="290.10" stroke="#f04252" stroke-width="1.15" stroke-dasharray="1.0 1.25"/>
<line x1="155.60" y1="290.10" x2="161.80" y2="290.10" stroke="#f04252" stroke-width="1.15" stroke-dasharray="1.0 1.25"/>
<line x1="178.40" y1="290.10" x2="185.30" y2="290.10" stroke="#f04252" stroke-width="1.15" stroke-dasharray="1.0 1.25"/>
<line x1="201.90" y1="290.10" x2="208.40" y2="290.10" stroke="#f04252" stroke-width="1.15" stroke-dasharray="1.0 1.25"/>
<line x1="225.00" y1="290.10" x2="231.00" y2="290.10" stroke="#f04252" stroke-width="1.15" stroke-dasharray="1.0 1.25"/>
<line x1="132.80" y1="313.50" x2="139.00" y2="313.50" stroke="#f04252" stroke-width="1.15" stroke-dasharray="1.0 1.25"/>
<line x1="155.60" y1="313.50" x2="161.80" y2="313.50" stroke="#f04252" stroke-width="1.15" stroke-dasharray="1.0 1.25"/>
<line x1="178.40" y1="313.50" x2="185.30" y2="313.50" stroke="#f04252" stroke-width="1.15" stroke-dasharray="1.0 1.25"/>
<line x1="201.90" y1="313.50" x2="208.40" y2="313.50" stroke="#f04252" stroke-width="1.15" stroke-dasharray="1.0 1.25"/>
<line x1="225.00" y1="313.50" x2="231.00" y2="313.50" stroke="#f04252" stroke-width="1.15" stroke-dasharray="1.0 1.25"/>
<line x1="149.60" y1="226.00" x2="149.60" y2="233.10" stroke="#f04252" stroke-width="1.15" stroke-dasharray="1.0 1.25"/>
<line x1="149.60" y1="249.70" x2="149.60" y2="256.20" stroke="#f04252" stroke-width="1.15" stroke-dasharray="1.0 1.25"/>
<line x1="149.60" y1="272.80" x2="149.60" y2="279.50" stroke="#f04252" stroke-width="1.15" stroke-dasharray="1.0 1.25"/>
<line x1="149.60" y1="296.10" x2="149.60" y2="302.90" stroke="#f04252" stroke-width="1.15" stroke-dasharray="1.0 1.25"/>
<line x1="149.60" y1="319.50" x2="149.60" y2="325.80" stroke="#f04252" stroke-width="1.15" stroke-dasharray="1.0 1.25"/>
<line x1="172.40" y1="226.00" x2="172.40" y2="233.10" stroke="#f04252" stroke-width="1.15" stroke-dasharray="1.0 1.25"/>
<line x1="172.40" y1="249.70" x2="172.40" y2="256.20" stroke="#f04252" stroke-width="1.15" stroke-dasharray="1.0 1.25"/>
<line x1="172.40" y1="272.80" x2="172.40" y2="279.50" stroke="#f04252" stroke-width="1.15" stroke-dasharray="1.0 1.25"/>
<line x1="172.40" y1="296.10" x2="172.40" y2="302.90" stroke="#f04252" stroke-width="1.15" stroke-dasharray="1.0 1.25"/>
<line x1="172.40" y1="319.50" x2="172.40" y2="325.80" stroke="#f04252" stroke-width="1.15" stroke-dasharray="1.0 1.25"/>
<line x1="195.90" y1="226.00" x2="195.90" y2="233.10" stroke="#f04252" stroke-width="1.15" stroke-dasharray="1.0 1.25"/>
<line x1="195.90" y1="249.70" x2="195.90" y2="256.20" stroke="#f04252" stroke-width="1.15" stroke-dasharray="1.0 1.25"/>
<line x1="195.90" y1="272.80" x2="195.90" y2="279.50" stroke="#f04252" stroke-width="1.15" stroke-dasharray="1.0 1.25"/>
<line x1="195.90" y1="296.10" x2="195.90" y2="302.90" stroke="#f04252" stroke-width="1.15" stroke-dasharray="1.0 1.25"/>
<line x1="195.90" y1="319.50" x2="195.90" y2="325.80" stroke="#f04252" stroke-width="1.15" stroke-dasharray="1.0 1.25"/>
<line x1="219.00" y1="226.00" x2="219.00" y2="233.10" stroke="#f04252" stroke-width="1.15" stroke-dasharray="1.0 1.25"/>
<line x1="219.00" y1="249.70" x2="219.00" y2="256.20" stroke="#f04252" stroke-width="1.15" stroke-dasharray="1.0 1.25"/>
<line x1="219.00" y1="272.80" x2="219.00" y2="279.50" stroke="#f04252" stroke-width="1.15" stroke-dasharray="1.0 1.25"/>
<line x1="219.00" y1="296.10" x2="219.00" y2="302.90" stroke="#f04252" stroke-width="1.15" stroke-dasharray="1.0 1.25"/>
<line x1="219.00" y1="319.50" x2="219.00" y2="325.80" stroke="#f04252" stroke-width="1.15" stroke-dasharray="1.0 1.25"/>
<circle cx="149.60" cy="243.70" r="6.2" fill="url(#sph)"/>
<circle cx="149.60" cy="235.20" r="1.78" fill="#fff" stroke="#f2475a" stroke-width="1.5"/>
<circle cx="141.00" cy="243.70" r="1.78" fill="#fff" stroke="#f2475a" stroke-width="1.5"/>
<circle cx="172.40" cy="243.70" r="6.2" fill="url(#sph)"/>
<circle cx="172.40" cy="235.20" r="1.78" fill="#fff" stroke="#f2475a" stroke-width="1.5"/>
<circle cx="163.80" cy="243.70" r="1.78" fill="#fff" stroke="#f2475a" stroke-width="1.5"/>
<circle cx="195.90" cy="243.70" r="6.2" fill="url(#sph)"/>
<circle cx="195.90" cy="235.20" r="1.78" fill="#fff" stroke="#f2475a" stroke-width="1.5"/>
<circle cx="187.30" cy="243.70" r="1.78" fill="#fff" stroke="#f2475a" stroke-width="1.5"/>
<circle cx="219.00" cy="243.70" r="6.2" fill="url(#sph)"/>
<circle cx="219.00" cy="235.20" r="1.78" fill="#fff" stroke="#f2475a" stroke-width="1.5"/>
<circle cx="210.40" cy="243.70" r="1.78" fill="#fff" stroke="#f2475a" stroke-width="1.5"/>
<circle cx="149.60" cy="266.80" r="6.2" fill="url(#sph)"/>
<circle cx="149.60" cy="258.30" r="1.78" fill="#fff" stroke="#f2475a" stroke-width="1.5"/>
<circle cx="141.00" cy="266.80" r="1.78" fill="#fff" stroke="#f2475a" stroke-width="1.5"/>
<circle cx="172.40" cy="266.80" r="6.2" fill="url(#sph)"/>
<circle cx="172.40" cy="258.30" r="1.78" fill="#fff" stroke="#f2475a" stroke-width="1.5"/>
<circle cx="163.80" cy="266.80" r="1.78" fill="#fff" stroke="#f2475a" stroke-width="1.5"/>
<circle cx="195.90" cy="266.80" r="6.2" fill="url(#sph)"/>
<circle cx="195.90" cy="258.30" r="1.78" fill="#fff" stroke="#f2475a" stroke-width="1.5"/>
<circle cx="187.30" cy="266.80" r="1.78" fill="#fff" stroke="#f2475a" stroke-width="1.5"/>
<circle cx="219.00" cy="266.80" r="6.2" fill="url(#sph)"/>
<circle cx="219.00" cy="258.30" r="1.78" fill="#fff" stroke="#f2475a" stroke-width="1.5"/>
<circle cx="210.40" cy="266.80" r="1.78" fill="#fff" stroke="#f2475a" stroke-width="1.5"/>
<circle cx="149.60" cy="290.10" r="6.2" fill="url(#sph)"/>
<circle cx="149.60" cy="281.60" r="1.78" fill="#fff" stroke="#f2475a" stroke-width="1.5"/>
<circle cx="141.00" cy="290.10" r="1.78" fill="#fff" stroke="#f2475a" stroke-width="1.5"/>
<circle cx="172.40" cy="290.10" r="6.2" fill="url(#sph)"/>
<circle cx="172.40" cy="281.60" r="1.78" fill="#fff" stroke="#f2475a" stroke-width="1.5"/>
<circle cx="163.80" cy="290.10" r="1.78" fill="#fff" stroke="#f2475a" stroke-width="1.5"/>
<circle cx="195.90" cy="290.10" r="6.2" fill="url(#sph)"/>
<circle cx="195.90" cy="281.60" r="1.78" fill="#fff" stroke="#f2475a" stroke-width="1.5"/>
<circle cx="187.30" cy="290.10" r="1.78" fill="#fff" stroke="#f2475a" stroke-width="1.5"/>
<circle cx="219.00" cy="290.10" r="6.2" fill="url(#sph)"/>
<circle cx="219.00" cy="281.60" r="1.78" fill="#fff" stroke="#f2475a" stroke-width="1.5"/>
<circle cx="210.40" cy="290.10" r="1.78" fill="#fff" stroke="#f2475a" stroke-width="1.5"/>
<circle cx="149.60" cy="313.50" r="6.2" fill="url(#sph)"/>
<circle cx="149.60" cy="305.00" r="1.78" fill="#fff" stroke="#f2475a" stroke-width="1.5"/>
<circle cx="141.00" cy="313.50" r="1.78" fill="#fff" stroke="#f2475a" stroke-width="1.5"/>
<circle cx="172.40" cy="313.50" r="6.2" fill="url(#sph)"/>
<circle cx="172.40" cy="305.00" r="1.78" fill="#fff" stroke="#f2475a" stroke-width="1.5"/>
<circle cx="163.80" cy="313.50" r="1.78" fill="#fff" stroke="#f2475a" stroke-width="1.5"/>
<circle cx="195.90" cy="313.50" r="6.2" fill="url(#sph)"/>
<circle cx="195.90" cy="305.00" r="1.78" fill="#fff" stroke="#f2475a" stroke-width="1.5"/>
<circle cx="187.30" cy="313.50" r="1.78" fill="#fff" stroke="#f2475a" stroke-width="1.5"/>
<circle cx="219.00" cy="313.50" r="6.2" fill="url(#sph)"/>
<circle cx="219.00" cy="305.00" r="1.78" fill="#fff" stroke="#f2475a" stroke-width="1.5"/>
<circle cx="210.40" cy="313.50" r="1.78" fill="#fff" stroke="#f2475a" stroke-width="1.5"/>
<circle cx="316.3" cy="244.8" r="30" fill="url(#blueglow)"/>
<circle cx="399.1" cy="245.3" r="30" fill="url(#blueglow)"/>
<circle cx="368.8" cy="301.6" r="33" fill="url(#blueglow2)"/>
<ellipse cx="298" cy="318" rx="28" ry="24" fill="url(#pinkglow2)"/>
<circle cx="316.3" cy="244.8" r="5.20" fill="url(#bion)" stroke="#4b8dd2" stroke-width="1.4"/>
<path d="M312.30,244.80 H320.30 M316.30,240.90 V248.70" stroke="#000" stroke-width="1.3"/>
<circle cx="318.80" cy="230.10" r="6.2" fill="url(#sph)"/>
<circle cx="314.40" cy="222.90" r="1.78" fill="#fff" stroke="#f2475a" stroke-width="1.5"/>
<circle cx="326.60" cy="226.10" r="1.78" fill="#fff" stroke="#f2475a" stroke-width="1.5"/>
<circle cx="302.90" cy="237.20" r="6.2" fill="url(#sph)"/>
<circle cx="303.30" cy="229.00" r="1.78" fill="#fff" stroke="#f2475a" stroke-width="1.5"/>
<circle cx="294.50" cy="238.30" r="1.78" fill="#fff" stroke="#f2475a" stroke-width="1.5"/>
<circle cx="331.50" cy="244.40" r="6.2" fill="url(#sph)"/>
<circle cx="336.30" cy="237.20" r="1.78" fill="#fff" stroke="#f2475a" stroke-width="1.5"/>
<circle cx="338.50" cy="249.40" r="1.78" fill="#fff" stroke="#f2475a" stroke-width="1.5"/>
<circle cx="302.90" cy="253.60" r="6.2" fill="url(#sph)"/>
<circle cx="294.50" cy="253.10" r="1.78" fill="#fff" stroke="#f2475a" stroke-width="1.5"/>
<circle cx="303.30" cy="262.30" r="1.78" fill="#fff" stroke="#f2475a" stroke-width="1.5"/>
<circle cx="319.60" cy="259.10" r="6.2" fill="url(#sph)"/>
<circle cx="315.50" cy="266.60" r="1.78" fill="#fff" stroke="#f2475a" stroke-width="1.5"/>
<circle cx="327.50" cy="263.00" r="1.78" fill="#fff" stroke="#f2475a" stroke-width="1.5"/>
<circle cx="399.1" cy="245.3" r="5.20" fill="url(#bion)" stroke="#4b8dd2" stroke-width="1.4"/>
<path d="M395.10,245.30 H403.10 M399.10,241.40 V249.20" stroke="#000" stroke-width="1.3"/>
<circle cx="401.60" cy="230.60" r="6.2" fill="url(#sph)"/>
<circle cx="397.20" cy="223.40" r="1.78" fill="#fff" stroke="#f2475a" stroke-width="1.5"/>
<circle cx="409.40" cy="226.60" r="1.78" fill="#fff" stroke="#f2475a" stroke-width="1.5"/>
<circle cx="385.70" cy="237.70" r="6.2" fill="url(#sph)"/>
<circle cx="386.10" cy="229.50" r="1.78" fill="#fff" stroke="#f2475a" stroke-width="1.5"/>
<circle cx="377.30" cy="238.80" r="1.78" fill="#fff" stroke="#f2475a" stroke-width="1.5"/>
<circle cx="414.30" cy="244.90" r="6.2" fill="url(#sph)"/>
<circle cx="419.10" cy="237.70" r="1.78" fill="#fff" stroke="#f2475a" stroke-width="1.5"/>
<circle cx="421.30" cy="249.90" r="1.78" fill="#fff" stroke="#f2475a" stroke-width="1.5"/>
<circle cx="385.70" cy="254.10" r="6.2" fill="url(#sph)"/>
<circle cx="377.30" cy="253.60" r="1.78" fill="#fff" stroke="#f2475a" stroke-width="1.5"/>
<circle cx="386.10" cy="262.80" r="1.78" fill="#fff" stroke="#f2475a" stroke-width="1.5"/>
<circle cx="402.40" cy="259.60" r="6.2" fill="url(#sph)"/>
<circle cx="398.30" cy="267.10" r="1.78" fill="#fff" stroke="#f2475a" stroke-width="1.5"/>
<circle cx="410.30" cy="263.50" r="1.78" fill="#fff" stroke="#f2475a" stroke-width="1.5"/>
<circle cx="368.8" cy="300.6" r="5.00" fill="url(#nion)" stroke="#9fc0ee" stroke-width="1.5"/>
<path d="M365.70,300.60 H372.00" stroke="#000" stroke-width="1.7"/>
<circle cx="359.80" cy="283.80" r="6.2" fill="url(#sph)"/>
<circle cx="367.70" cy="286.20" r="1.78" fill="#fff" stroke="#f2475a" stroke-width="1.5"/>
<circle cx="357.40" cy="291.80" r="1.78" fill="#fff" stroke="#f2475a" stroke-width="1.5"/>
<circle cx="382.00" cy="286.80" r="6.2" fill="url(#sph)"/>
<circle cx="373.70" cy="286.80" r="1.78" fill="#fff" stroke="#f2475a" stroke-width="1.5"/>
<circle cx="382.20" cy="295.80" r="1.78" fill="#fff" stroke="#f2475a" stroke-width="1.5"/>
<circle cx="349.80" cy="303.30" r="6.2" fill="url(#sph)"/>
<circle cx="355.20" cy="296.70" r="1.78" fill="#fff" stroke="#f2475a" stroke-width="1.5"/>
<circle cx="355.80" cy="309.00" r="1.78" fill="#fff" stroke="#f2475a" stroke-width="1.5"/>
<circle cx="385.20" cy="309.00" r="6.2" fill="url(#sph)"/>
<circle cx="383.20" cy="301.30" r="1.78" fill="#fff" stroke="#f2475a" stroke-width="1.5"/>
<circle cx="377.00" cy="312.00" r="1.78" fill="#fff" stroke="#f2475a" stroke-width="1.5"/>
<circle cx="365.10" cy="318.60" r="6.2" fill="url(#sph)"/>
<circle cx="360.20" cy="312.20" r="1.78" fill="#fff" stroke="#f2475a" stroke-width="1.5"/>
<circle cx="372.10" cy="314.20" r="1.78" fill="#fff" stroke="#f2475a" stroke-width="1.5"/>
<g transform="rotate(-40 302.4 305.0)" filter="url(#blur08)"><rect x="289.0" y="301.3" width="26.8" height="7.4" rx="3.7" fill="url(#glycV)"/></g>
<circle cx="360.10" cy="241.70" r="6.2" fill="url(#sph)"/>
<circle cx="360.10" cy="233.30" r="1.78" fill="#fff" stroke="#f2475a" stroke-width="1.5"/>
<circle cx="351.30" cy="242.80" r="1.78" fill="#fff" stroke="#f2475a" stroke-width="1.5"/>
<circle cx="286.60" cy="270.80" r="6.2" fill="url(#sph)"/>
<circle cx="279.30" cy="266.50" r="1.78" fill="#fff" stroke="#f2475a" stroke-width="1.5"/>
<circle cx="291.80" cy="264.90" r="1.78" fill="#fff" stroke="#f2475a" stroke-width="1.5"/>
<circle cx="298.70" cy="290.60" r="6.2" fill="url(#sph)"/>
<circle cx="301.90" cy="283.00" r="1.78" fill="#fff" stroke="#f2475a" stroke-width="1.5"/>
<circle cx="290.40" cy="288.10" r="1.78" fill="#fff" stroke="#f2475a" stroke-width="1.5"/>
<circle cx="316.90" cy="286.30" r="6.2" fill="url(#sph)"/>
<circle cx="308.30" cy="286.70" r="1.78" fill="#fff" stroke="#f2475a" stroke-width="1.5"/>
<circle cx="317.80" cy="295.00" r="1.78" fill="#fff" stroke="#f2475a" stroke-width="1.5"/>
<circle cx="288.50" cy="300.70" r="6.2" fill="url(#sph)"/>
<circle cx="285.40" cy="293.10" r="1.78" fill="#fff" stroke="#f2475a" stroke-width="1.5"/>
<circle cx="280.60" cy="304.40" r="1.78" fill="#fff" stroke="#f2475a" stroke-width="1.5"/>
<circle cx="318.10" cy="308.90" r="6.2" fill="url(#sph)"/>
<circle cx="317.20" cy="300.70" r="1.78" fill="#fff" stroke="#f2475a" stroke-width="1.5"/>
<circle cx="309.40" cy="310.40" r="1.78" fill="#fff" stroke="#f2475a" stroke-width="1.5"/>
<circle cx="284.30" cy="315.90" r="6.2" fill="url(#sph)"/>
<circle cx="276.10" cy="313.70" r="1.78" fill="#fff" stroke="#f2475a" stroke-width="1.5"/>
<circle cx="282.40" cy="324.30" r="1.78" fill="#fff" stroke="#f2475a" stroke-width="1.5"/>
<circle cx="302.00" cy="323.90" r="6.2" fill="url(#sph)"/>
<circle cx="293.70" cy="321.90" r="1.78" fill="#fff" stroke="#f2475a" stroke-width="1.5"/>
<circle cx="304.60" cy="315.60" r="1.78" fill="#fff" stroke="#f2475a" stroke-width="1.5"/>
<circle cx="337.80" cy="328.00" r="6.2" fill="url(#sph)"/>
<circle cx="331.00" cy="323.50" r="1.78" fill="#fff" stroke="#f2475a" stroke-width="1.5"/>
<circle cx="343.30" cy="321.80" r="1.78" fill="#fff" stroke="#f2475a" stroke-width="1.5"/>
<circle cx="403.40" cy="279.90" r="6.2" fill="url(#sph)"/>
<circle cx="411.70" cy="280.30" r="1.78" fill="#fff" stroke="#f2475a" stroke-width="1.5"/>
<circle cx="402.80" cy="288.80" r="1.78" fill="#fff" stroke="#f2475a" stroke-width="1.5"/>
<circle cx="411.70" cy="324.50" r="6.2" fill="url(#sph)"/>
<circle cx="411.70" cy="316.20" r="1.78" fill="#fff" stroke="#f2475a" stroke-width="1.5"/>
<circle cx="403.00" cy="324.90" r="1.78" fill="#fff" stroke="#f2475a" stroke-width="1.5"/>
<path d="M38.5,333.8 V347.8 H353.8 V337.5" fill="none" stroke="#333" stroke-width="1.1"/>
<path d="M353.8,334.0 L351.9,338.4 L355.7,338.4 Z" fill="#333"/>
<text x="188" y="342.7" font-size="11.4" text-anchor="middle" fill="#111" stroke="#111" stroke-width="0.15">Adding bismuth ions/glycerol</text>
<rect x="1.2" y="358.4" width="423" height="18.4" rx="8" fill="none" stroke="#9a9a9a" stroke-width="0.9" stroke-dasharray="2 1.4"/>
<circle cx="13.60" cy="367.20" r="6.0" fill="url(#sph)"/>
<text x="23.4" y="371.5" font-size="11.4" text-anchor="start" fill="#111" stroke="#111" stroke-width="0.15">Oxygen</text>
<circle cx="72.9" cy="367.7" r="2.3" fill="url(#hleg)" stroke="#f2475a" stroke-width="1.3"/>
<text x="79.6" y="371.5" font-size="11.4" text-anchor="start" fill="#111" stroke="#111" stroke-width="0.15">Hydrogen</text>
<line x1="137.2" y1="367.8" x2="147.2" y2="367.8" stroke="#f03848" stroke-width="1.3" stroke-dasharray="1.1 1.1"/>
<text x="150.2" y="371.5" font-size="11.4" text-anchor="start" fill="#111" stroke="#111" stroke-width="0.15">H-bond</text>
<circle cx="201.9" cy="367.5" r="5.72" fill="url(#bion)" stroke="#4b8dd2" stroke-width="1.4"/>
<path d="M197.50,367.50 H206.30 M201.90,363.21 V371.79" stroke="#000" stroke-width="1.3"/>
<text x="212.2" y="371.5" font-size="11.4" text-anchor="start" fill="#111" stroke="#111" stroke-width="0.15">Bismuth ion</text>
<circle cx="286.3" cy="367.4" r="5.60" fill="url(#nion)" stroke="#9fc0ee" stroke-width="1.5"/>
<path d="M282.83,367.40 H289.88" stroke="#000" stroke-width="1.7"/>
<text x="296.0" y="371.5" font-size="11.4" text-anchor="start" fill="#111" stroke="#111" stroke-width="0.15">Nitrate ion</text>
<rect x="354.6" y="365.0" width="19.6" height="6.8" rx="3.4" fill="url(#glycV)" filter="url(#blur05)"/>
<text x="377.7" y="371.5" font-size="11.4" text-anchor="start" fill="#111" stroke="#111" stroke-width="0.15">Glycerol</text>
<text x="434.5" y="207.9" font-size="13" text-anchor="start" fill="#000" font-weight="bold">e</text>
<rect x="479.0" y="249.0" width="10.1" height="99.19999999999999" fill="#f47dcb"/>
<rect x="489.1" y="237.9" width="9.7" height="110.29999999999998" fill="#cecece"/>
<rect x="507.0" y="293.0" width="10.1" height="55.19999999999999" fill="#f47dcb"/>
<rect x="517.1" y="278.6" width="9.7" height="69.59999999999997" fill="#cecece"/>
<rect x="535.0" y="295.4" width="10.1" height="52.80000000000001" fill="#f47dcb"/>
<rect x="545.1" y="288.6" width="9.7" height="59.599999999999966" fill="#cecece"/>
<rect x="563.0" y="299.7" width="10.1" height="48.5" fill="#f47dcb"/>
<rect x="573.1" y="292.2" width="9.7" height="56.0" fill="#cecece"/>
<rect x="591.2" y="312.8" width="10.1" height="35.39999999999998" fill="#f47dcb"/>
<rect x="601.3000000000001" y="310.5" width="9.7" height="37.69999999999999" fill="#cecece"/>
<rect x="619.1" y="321.4" width="10.1" height="26.80000000000001" fill="#f47dcb"/>
<rect x="629.2" y="319.1" width="9.7" height="29.099999999999966" fill="#cecece"/>
<line x1="484.0" y1="245.5" x2="484.0" y2="252.5" stroke="#222" stroke-width="1.3"/>
<circle cx="482.43" cy="249.35" r="1.15" fill="#fff" stroke="#777" stroke-width="0.6"/>
<circle cx="483.22" cy="249.83" r="1.15" fill="#fff" stroke="#777" stroke-width="0.6"/>
<circle cx="484.75" cy="245.52" r="1.15" fill="#fff" stroke="#777" stroke-width="0.6"/>
<circle cx="481.08" cy="251.70" r="1.15" fill="#fff" stroke="#777" stroke-width="0.6"/>
<circle cx="482.56" cy="246.87" r="1.15" fill="#fff" stroke="#777" stroke-width="0.6"/>
<line x1="494.0" y1="234.1" x2="494.0" y2="241.70000000000002" stroke="#222" stroke-width="1.3"/>
<circle cx="496.97" cy="237.64" r="1.15" fill="#fff" stroke="#777" stroke-width="0.6"/>
<circle cx="496.02" cy="237.70" r="1.15" fill="#fff" stroke="#777" stroke-width="0.6"/>
<circle cx="494.83" cy="234.90" r="1.15" fill="#fff" stroke="#777" stroke-width="0.6"/>
<circle cx="494.81" cy="241.07" r="1.15" fill="#fff" stroke="#777" stroke-width="0.6"/>
<circle cx="494.14" cy="239.97" r="1.15" fill="#fff" stroke="#777" stroke-width="0.6"/>
<line x1="512.0" y1="289.5" x2="512.0" y2="296.5" stroke="#222" stroke-width="1.3"/>
<circle cx="513.03" cy="289.51" r="1.15" fill="#fff" stroke="#777" stroke-width="0.6"/>
<circle cx="513.55" cy="293.73" r="1.15" fill="#fff" stroke="#777" stroke-width="0.6"/>
<circle cx="510.81" cy="289.25" r="1.15" fill="#fff" stroke="#777" stroke-width="0.6"/>
<circle cx="514.19" cy="292.78" r="1.15" fill="#fff" stroke="#777" stroke-width="0.6"/>
<circle cx="513.31" cy="296.03" r="1.15" fill="#fff" stroke="#777" stroke-width="0.6"/>
<line x1="522.0" y1="274.8" x2="522.0" y2="282.40000000000003" stroke="#222" stroke-width="1.3"/>
<circle cx="523.28" cy="282.22" r="1.15" fill="#fff" stroke="#777" stroke-width="0.6"/>
<circle cx="521.37" cy="281.19" r="1.15" fill="#fff" stroke="#777" stroke-width="0.6"/>
<circle cx="521.67" cy="282.35" r="1.15" fill="#fff" stroke="#777" stroke-width="0.6"/>
<circle cx="524.27" cy="275.14" r="1.15" fill="#fff" stroke="#777" stroke-width="0.6"/>
<circle cx="519.82" cy="276.17" r="1.15" fill="#fff" stroke="#777" stroke-width="0.6"/>
<line x1="540.0" y1="291.9" x2="540.0" y2="298.9" stroke="#222" stroke-width="1.3"/>
<circle cx="542.79" cy="294.89" r="1.15" fill="#fff" stroke="#777" stroke-width="0.6"/>
<circle cx="540.76" cy="293.81" r="1.15" fill="#fff" stroke="#777" stroke-width="0.6"/>
<circle cx="540.04" cy="294.49" r="1.15" fill="#fff" stroke="#777" stroke-width="0.6"/>
<circle cx="539.11" cy="296.08" r="1.15" fill="#fff" stroke="#777" stroke-width="0.6"/>
<circle cx="540.51" cy="298.63" r="1.15" fill="#fff" stroke="#777" stroke-width="0.6"/>
<line x1="550.0" y1="284.8" x2="550.0" y2="292.40000000000003" stroke="#222" stroke-width="1.3"/>
<circle cx="551.09" cy="292.29" r="1.15" fill="#fff" stroke="#777" stroke-width="0.6"/>
<circle cx="552.14" cy="292.82" r="1.15" fill="#fff" stroke="#777" stroke-width="0.6"/>
<circle cx="551.03" cy="285.70" r="1.15" fill="#fff" stroke="#777" stroke-width="0.6"/>
<circle cx="552.16" cy="292.60" r="1.15" fill="#fff" stroke="#777" stroke-width="0.6"/>
<circle cx="552.43" cy="289.19" r="1.15" fill="#fff" stroke="#777" stroke-width="0.6"/>
<line x1="568.0" y1="296.2" x2="568.0" y2="303.2" stroke="#222" stroke-width="1.3"/>
<circle cx="569.28" cy="297.39" r="1.15" fill="#fff" stroke="#777" stroke-width="0.6"/>
<circle cx="569.99" cy="300.29" r="1.15" fill="#fff" stroke="#777" stroke-width="0.6"/>
<circle cx="566.71" cy="296.21" r="1.15" fill="#fff" stroke="#777" stroke-width="0.6"/>
<circle cx="570.12" cy="303.62" r="1.15" fill="#fff" stroke="#777" stroke-width="0.6"/>
<circle cx="565.53" cy="302.10" r="1.15" fill="#fff" stroke="#777" stroke-width="0.6"/>
<line x1="578.0" y1="288.4" x2="578.0" y2="296.0" stroke="#222" stroke-width="1.3"/>
<circle cx="577.46" cy="289.20" r="1.15" fill="#fff" stroke="#777" stroke-width="0.6"/>
<circle cx="576.76" cy="294.51" r="1.15" fill="#fff" stroke="#777" stroke-width="0.6"/>
<circle cx="580.24" cy="288.28" r="1.15" fill="#fff" stroke="#777" stroke-width="0.6"/>
<circle cx="578.69" cy="288.29" r="1.15" fill="#fff" stroke="#777" stroke-width="0.6"/>
<circle cx="579.31" cy="290.75" r="1.15" fill="#fff" stroke="#777" stroke-width="0.6"/>
<line x1="596.2" y1="310.8" x2="596.2" y2="314.8" stroke="#222" stroke-width="1.3"/>
<circle cx="598.49" cy="315.20" r="1.15" fill="#fff" stroke="#777" stroke-width="0.6"/>
<circle cx="596.23" cy="315.29" r="1.15" fill="#fff" stroke="#777" stroke-width="0.6"/>
<circle cx="595.06" cy="310.68" r="1.15" fill="#fff" stroke="#777" stroke-width="0.6"/>
<circle cx="596.80" cy="310.46" r="1.15" fill="#fff" stroke="#777" stroke-width="0.6"/>
<circle cx="594.38" cy="312.34" r="1.15" fill="#fff" stroke="#777" stroke-width="0.6"/>
<line x1="606.2" y1="308.5" x2="606.2" y2="312.5" stroke="#222" stroke-width="1.3"/>
<circle cx="606.86" cy="308.78" r="1.15" fill="#fff" stroke="#777" stroke-width="0.6"/>
<circle cx="603.45" cy="312.34" r="1.15" fill="#fff" stroke="#777" stroke-width="0.6"/>
<circle cx="605.08" cy="312.79" r="1.15" fill="#fff" stroke="#777" stroke-width="0.6"/>
<circle cx="608.58" cy="309.89" r="1.15" fill="#fff" stroke="#777" stroke-width="0.6"/>
<circle cx="605.96" cy="310.60" r="1.15" fill="#fff" stroke="#777" stroke-width="0.6"/>
<line x1="624.1" y1="319.4" x2="624.1" y2="323.4" stroke="#222" stroke-width="1.3"/>
<circle cx="624.96" cy="321.88" r="1.15" fill="#fff" stroke="#777" stroke-width="0.6"/>
<circle cx="624.46" cy="322.00" r="1.15" fill="#fff" stroke="#777" stroke-width="0.6"/>
<circle cx="626.74" cy="321.44" r="1.15" fill="#fff" stroke="#777" stroke-width="0.6"/>
<circle cx="623.69" cy="322.50" r="1.15" fill="#fff" stroke="#777" stroke-width="0.6"/>
<circle cx="622.53" cy="320.41" r="1.15" fill="#fff" stroke="#777" stroke-width="0.6"/>
<line x1="634.1" y1="317.1" x2="634.1" y2="321.1" stroke="#222" stroke-width="1.3"/>
<circle cx="636.97" cy="319.21" r="1.15" fill="#fff" stroke="#777" stroke-width="0.6"/>
<circle cx="634.39" cy="316.66" r="1.15" fill="#fff" stroke="#777" stroke-width="0.6"/>
<circle cx="633.59" cy="319.50" r="1.15" fill="#fff" stroke="#777" stroke-width="0.6"/>
<circle cx="631.22" cy="319.68" r="1.15" fill="#fff" stroke="#777" stroke-width="0.6"/>
<circle cx="634.89" cy="316.90" r="1.15" fill="#fff" stroke="#777" stroke-width="0.6"/>
<rect x="471.4" y="208.7" width="176.0" height="139.5" fill="none" stroke="#ababab" stroke-width="1"/>
<line x1="469.4" y1="348.1" x2="471.4" y2="348.1" stroke="#ababab" stroke-width="1"/>
<text x="467.8" y="351.5" font-size="9.700000000000001" text-anchor="end" fill="#222" stroke="#222" stroke-width="0.15">0</text>
<line x1="469.4" y1="303.1" x2="471.4" y2="303.1" stroke="#ababab" stroke-width="1"/>
<text x="467.8" y="306.5" font-size="9.700000000000001" text-anchor="end" fill="#222" stroke="#222" stroke-width="0.15">10</text>
<line x1="469.4" y1="258.1" x2="471.4" y2="258.1" stroke="#ababab" stroke-width="1"/>
<text x="467.8" y="261.5" font-size="9.700000000000001" text-anchor="end" fill="#222" stroke="#222" stroke-width="0.15">20</text>
<line x1="469.4" y1="213.10000000000002" x2="471.4" y2="213.10000000000002" stroke="#ababab" stroke-width="1"/>
<text x="467.8" y="216.50000000000003" font-size="9.700000000000001" text-anchor="end" fill="#222" stroke="#222" stroke-width="0.15">30</text>
<line x1="470.2" y1="325.6" x2="471.4" y2="325.6" stroke="#ababab" stroke-width="1"/>
<line x1="470.2" y1="280.6" x2="471.4" y2="280.6" stroke="#ababab" stroke-width="1"/>
<line x1="470.2" y1="235.60000000000002" x2="471.4" y2="235.60000000000002" stroke="#ababab" stroke-width="1"/>
<line x1="647.4" y1="348.5" x2="649.4" y2="348.5" stroke="#ababab" stroke-width="1"/>
<text x="650.3" y="351.9" font-size="9.700000000000001" text-anchor="start" fill="#222" stroke="#222" stroke-width="0.15">0</text>
<line x1="647.4" y1="303.53" x2="649.4" y2="303.53" stroke="#ababab" stroke-width="1"/>
<text x="650.3" y="306.92999999999995" font-size="9.700000000000001" text-anchor="start" fill="#222" stroke="#222" stroke-width="0.15">100</text>
<line x1="647.4" y1="258.56" x2="649.4" y2="258.56" stroke="#ababab" stroke-width="1"/>
<text x="650.3" y="261.96" font-size="9.700000000000001" text-anchor="start" fill="#222" stroke="#222" stroke-width="0.15">200</text>
<line x1="647.4" y1="213.59" x2="649.4" y2="213.59" stroke="#ababab" stroke-width="1"/>
<text x="650.3" y="216.99" font-size="9.700000000000001" text-anchor="start" fill="#222" stroke="#222" stroke-width="0.15">300</text>
<line x1="647.4" y1="326.015" x2="648.6" y2="326.015" stroke="#ababab" stroke-width="1"/>
<line x1="647.4" y1="281.045" x2="648.6" y2="281.045" stroke="#ababab" stroke-width="1"/>
<line x1="647.4" y1="236.075" x2="648.6" y2="236.075" stroke="#ababab" stroke-width="1"/>
<text x="451.4" y="285.5" font-size="11.4" text-anchor="middle" fill="#f070c8" stroke="#f070c8" stroke-width="0.15" transform="rotate(-90 451.4 285.5)">Shear strength (kPa)</text>
<text x="682" y="284.8" font-size="10.9" text-anchor="middle" fill="#222" stroke="#222" stroke-width="0.15" transform="rotate(-90 682 284.8)">Interfacial toughness (J m<tspan dy="-5.0" font-size="8.3">-2</tspan><tspan dy="5.0">)</tspan></text>
<rect x="501.8" y="211.2" width="14.1" height="11.6" fill="#f47dcb"/>
<rect x="501.8" y="227.8" width="14.1" height="11.2" fill="#cecece"/>
<text x="520.6" y="221.1" font-size="10.85" text-anchor="start" fill="#111" stroke="#111" stroke-width="0.15">Sheer strength</text>
<text x="520.6" y="237.6" font-size="10.85" text-anchor="start" fill="#111" stroke="#111" stroke-width="0.15">Interfacial toughness</text>
<text x="494.0" y="358.0" font-size="10.0" text-anchor="end" fill="#111" stroke="#111" stroke-width="0.15" transform="rotate(-24 494.0 358.0)">Steel</text>
<text x="519.6" y="358.5" font-size="10.0" text-anchor="end" fill="#111" stroke="#111" stroke-width="0.15" transform="rotate(-24 519.6 358.5)">PET</text>
<text x="557.6" y="356.1" font-size="10.0" text-anchor="end" fill="#111" stroke="#111" stroke-width="0.15" transform="rotate(-24 557.6 356.1)">Epoxy resin</text>
<text x="584.2" y="356.7" font-size="10.0" text-anchor="end" fill="#111" stroke="#111" stroke-width="0.15" transform="rotate(-24 584.2 356.7)">PDMS</text>
<text x="612.2" y="356.3" font-size="10.0" text-anchor="end" fill="#111" stroke="#111" stroke-width="0.15" transform="rotate(-24 612.2 356.3)">PMAA</text>
<text x="645.0" y="355.6" font-size="10.0" text-anchor="end" fill="#111" stroke="#111" stroke-width="0.15" transform="rotate(-24 645.0 355.6)">Carbon fiber</text>
</svg>
</body></html>
